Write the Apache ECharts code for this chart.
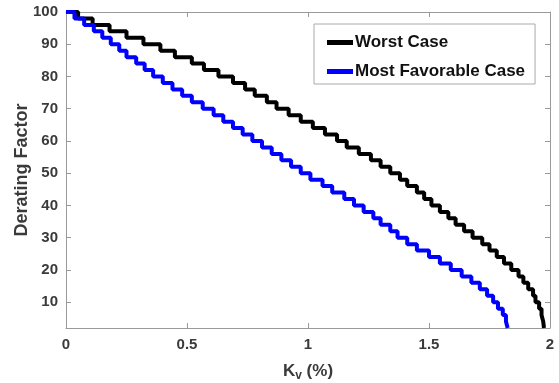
<!DOCTYPE html>
<html>
<head>
<meta charset="utf-8">
<script src="https://cdn.jsdelivr.net/npm/echarts@6/dist/echarts.min.js"></script>
<style>
html,body{margin:0;padding:0;background:#fff;}
#chart{width:559px;height:383px;}
</style>
</head>
<body>
<div id="chart"></div>
<script>
// Derating factor levels (y values of the staircase)
var dfLevels = [100,98,96,94,92,90,88,86,84,82,80,78,76,74,72,70,68,66,64,62,60,58,56,54,52,50,48,46,44,42,40,38,36,34,32,30,28,26,24,22,20,18,16,14,12,10,8,6,4,2];
// Kv (%) at which each level is reached — Worst Case
var kvWorst = [0.00,0.05,0.11,0.18,0.25,0.32,0.39,0.45,0.52,0.57,0.63,0.69,0.74,0.78,0.83,0.87,0.92,0.97,1.02,1.07,1.12,1.16,1.21,1.26,1.30,1.34,1.38,1.41,1.45,1.48,1.51,1.545,1.58,1.61,1.645,1.68,1.72,1.75,1.78,1.81,1.84,1.87,1.89,1.91,1.93,1.94,1.955,1.965,1.972,1.975];
// Kv (%) — Most Favorable Case
var kvFav = [0.00,0.035,0.075,0.115,0.15,0.185,0.22,0.25,0.29,0.325,0.36,0.40,0.44,0.48,0.52,0.565,0.61,0.65,0.69,0.73,0.77,0.81,0.85,0.89,0.93,0.97,1.01,1.06,1.10,1.15,1.19,1.23,1.27,1.30,1.34,1.37,1.41,1.45,1.50,1.545,1.59,1.635,1.675,1.71,1.74,1.765,1.785,1.805,1.818,1.825];
var seriesNames = ['Worst Case','Most Favorable Case'];
var xTicks = [0,0.5,1,1.5,2];
var yTicks = [10,20,30,40,50,60,70,80,90,100];

function pairs(xs, ys){ var out=[]; for(var i=0;i<xs.length;i++){ out.push([xs[i], ys[i]]); } return out; }

var chart = echarts.init(document.getElementById('chart'), null, {renderer:'canvas'});
var axisColor = '#9a9a9a';
var FF = 'Liberation Sans, Arial, sans-serif';
var labelStyle = {color:'#3a3a3a', fontSize:15, fontWeight:'bold', fontFamily:FF};
var option = {
  animation:false,
  backgroundColor:'#fff',
  grid:{left:66, right:9, top:12, bottom:55, outerBoundsMode:'none', containLabel:false},
  legend:{
    data:seriesNames,
    orient:'vertical',
    left:314, top:24,
    padding:[10,10,4,13],
    itemGap:12,
    itemWidth:26, itemHeight:5,
    icon:'rect',
    selectedMode:false,
    backgroundColor:'#fff',
    borderColor:'#aaa', borderWidth:1,
    textStyle:{color:'#111', fontSize:17, fontWeight:'bold', fontFamily:FF, padding:[0,0,0,-3]}
  },
  xAxis:[{
    type:'value', min:0, max:2, interval:0.5,
    name:'{a|K}{b|v}{a| (%)}', nameLocation:'middle', nameGap:32, nameMoveOverlap:false,
    nameTextStyle:{rich:{
      a:{fontSize:17, fontWeight:'bold', color:'#3a3a3a', fontFamily:FF},
      b:{fontSize:12, fontWeight:'bold', color:'#3a3a3a', fontFamily:FF, padding:[10,0,0,0]}
    }},
    axisLine:{show:true, onZero:false, lineStyle:{color:axisColor, width:1}},
    axisTick:{show:true, inside:true, length:5, lineStyle:{color:axisColor}},
    axisLabel:Object.assign({margin:9, customValues:xTicks, formatter:function(v){return String(v);}}, labelStyle),
    splitLine:{show:false}
  },{
    type:'value', min:0, max:2, interval:0.5, position:'top',
    axisLine:{show:true, onZero:false, lineStyle:{color:axisColor, width:1}},
    axisTick:{show:true, inside:true, length:5, lineStyle:{color:axisColor}},
    axisLabel:{show:false}, splitLine:{show:false}
  }],
  yAxis:[{
    type:'value', min:2, max:100,
    name:'Derating Factor', nameLocation:'middle', nameGap:35, nameMoveOverlap:false,
    nameTextStyle:{fontSize:18, fontWeight:'bold', color:'#3a3a3a', fontFamily:FF},
    axisLine:{show:true, onZero:false, lineStyle:{color:axisColor, width:1}},
    axisTick:{show:true, inside:true, length:5, customValues:yTicks, lineStyle:{color:axisColor}},
    axisLabel:Object.assign({margin:8, customValues:yTicks}, labelStyle),
    splitLine:{show:false}
  },{
    type:'value', min:2, max:100, position:'right',
    axisLine:{show:true, onZero:false, lineStyle:{color:axisColor, width:1}},
    axisTick:{show:true, inside:true, length:5, customValues:yTicks, lineStyle:{color:axisColor}},
    axisLabel:{show:false}, splitLine:{show:false}
  }],
  series:[{
    name:seriesNames[0], type:'line', step:'end', showSymbol:false,
    data:pairs(kvWorst, dfLevels),
    itemStyle:{color:'#000'},
    lineStyle:{color:'#000', width:4}
  },{
    name:seriesNames[1], type:'line', step:'end', showSymbol:false,
    data:pairs(kvFav, dfLevels),
    itemStyle:{color:'#0000ff'},
    lineStyle:{color:'#0000ff', width:4}
  }]
};
chart.setOption(option);
</script>
</body>
</html>
